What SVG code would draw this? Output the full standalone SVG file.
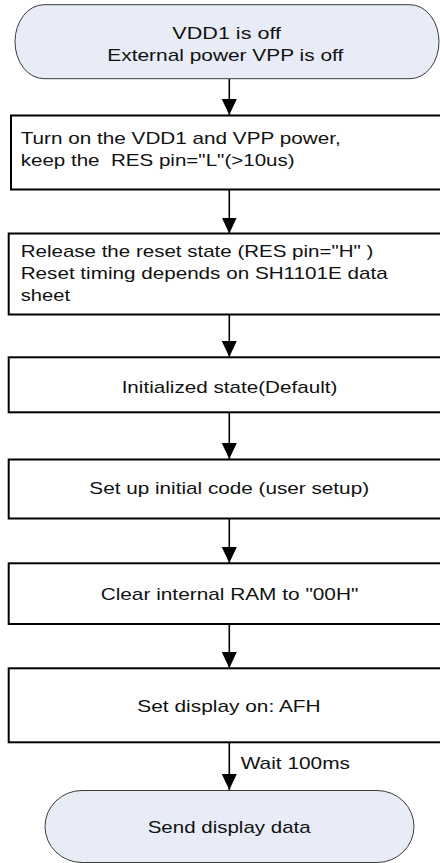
<svg xmlns="http://www.w3.org/2000/svg" width="440" height="863" viewBox="0 0 440 863">
<style>
.term{fill:#e7ecf6;stroke:#3a3a3a;stroke-width:1}
.box{fill:#ffffff;stroke:#000000;stroke-width:2}
.t{font-family:"Liberation Sans",Arial,sans-serif;font-size:17px;fill:#111111;white-space:pre}
.c{text-anchor:middle}
.edge{stroke:#000000;stroke-width:1.6;fill:none;marker-end:url(#ah)}
</style>
<defs>
<marker id="ah" viewBox="0 0 16 15" refX="16" refY="7.5" markerWidth="16" markerHeight="15" markerUnits="userSpaceOnUse" orient="auto">
<path d="M0,0 L16,7.5 L0,15 Z" fill="#000000"/>
</marker>
</defs>
<rect width="440" height="863" fill="#ffffff"/>
<g id="connectors">
<line class="edge" x1="229.3" y1="79" x2="229.3" y2="115"/>
<line class="edge" x1="229.3" y1="189.5" x2="229.3" y2="233.5"/>
<line class="edge" x1="229.3" y1="314.5" x2="229.3" y2="357"/>
<line class="edge" x1="229.3" y1="412" x2="229.3" y2="459"/>
<line class="edge" x1="229.3" y1="518" x2="229.3" y2="563"/>
<line class="edge" x1="229.3" y1="624" x2="229.3" y2="668"/>
<line class="edge" x1="229.3" y1="742" x2="229.3" y2="790"/>
<text class="t" x="240.7" y="769" textLength="109.3" lengthAdjust="spacingAndGlyphs">Wait 100ms</text>
</g>
<g id="start">
<path class="term" d="M44,4.7 H410 A29,37 0 0 1 410,78.7 H44 A29,37 0 0 1 44,4.7 Z"/>
<text class="t c" x="226.7" y="39" textLength="108.7" lengthAdjust="spacingAndGlyphs">VDD1 is off</text>
<text class="t c" x="225.3" y="61" textLength="236" lengthAdjust="spacingAndGlyphs">External power VPP is off</text>
</g>
<g id="power-on">
<rect class="box" x="11" y="115.5" width="440" height="74"/>
<text class="t" x="20.7" y="144" textLength="320" lengthAdjust="spacingAndGlyphs">Turn on the VDD1 and VPP power,</text>
<text class="t" x="20.7" y="166" textLength="274" lengthAdjust="spacingAndGlyphs">keep the  RES pin="L"(&gt;10us)</text>
</g>
<g id="release-reset">
<rect class="box" x="8.7" y="233.5" width="440" height="81"/>
<text class="t" x="20.7" y="257" textLength="352.7" lengthAdjust="spacingAndGlyphs">Release the reset state (RES pin="H" )</text>
<text class="t" x="20.7" y="279" textLength="367" lengthAdjust="spacingAndGlyphs">Reset timing depends on SH1101E data</text>
<text class="t" x="20.7" y="300.5" textLength="49.3" lengthAdjust="spacingAndGlyphs">sheet</text>
</g>
<g id="initialized">
<rect class="box" x="8.7" y="357.3" width="440" height="55"/>
<text class="t c" x="229.5" y="393" textLength="215.7" lengthAdjust="spacingAndGlyphs">Initialized state(Default)</text>
</g>
<g id="setup-code">
<rect class="box" x="8.7" y="459.5" width="440" height="59"/>
<text class="t c" x="229.2" y="494" textLength="279.7" lengthAdjust="spacingAndGlyphs">Set up initial code (user setup)</text>
</g>
<g id="clear-ram">
<rect class="box" x="8.7" y="563.3" width="440" height="60.7"/>
<text class="t c" x="229.5" y="600" textLength="257.7" lengthAdjust="spacingAndGlyphs">Clear internal RAM to "00H"</text>
</g>
<g id="display-on">
<rect class="box" x="8.7" y="668.3" width="440" height="74"/>
<text class="t c" x="229" y="711.5" textLength="183.3" lengthAdjust="spacingAndGlyphs">Set display on: AFH</text>
</g>
<g id="send-data">
<path class="term" d="M82,790.5 H377 A37,36 0 0 1 377,862.5 H82 A37,36 0 0 1 82,790.5 Z"/>
<text class="t c" x="229.2" y="833" textLength="163" lengthAdjust="spacingAndGlyphs">Send display data</text>
</g>
</svg>
